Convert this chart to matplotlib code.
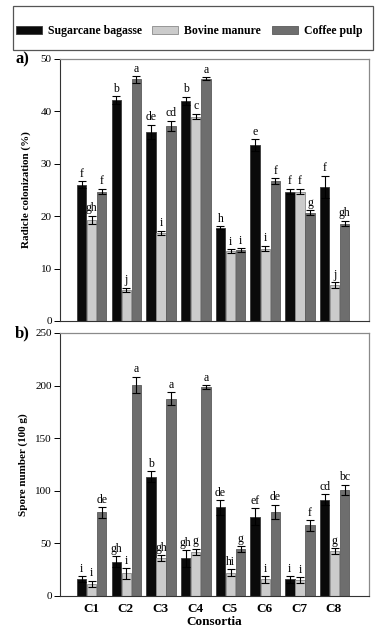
import matplotlib
matplotlib.use("Agg")
import matplotlib.pyplot as plt
from matplotlib.patches import Patch, Rectangle
import numpy as np

plt.rcParams['font.family'] = ['Liberation Serif', 'DejaVu Serif']

consortia = ["C1", "C2", "C3", "C4", "C5", "C6", "C7", "C8"]
series = ["Sugarcane bagasse", "Bovine manure", "Coffee pulp"]

# Panel a: radicle colonization (%)
col_sb = [26.0, 42.2, 36.1, 42.0, 17.8, 33.6, 24.7, 25.6]
col_bm = [19.3, 5.9, 16.8, 39.0, 13.3, 13.8, 24.7, 6.8]
col_cp = [24.7, 46.1, 37.2, 46.2, 13.5, 26.7, 20.7, 18.6]
col_sb_err = [0.7, 0.7, 1.3, 0.8, 0.3, 1.1, 0.5, 2.1]
col_bm_err = [0.8, 0.4, 0.4, 0.5, 0.4, 0.5, 0.5, 0.6]
col_cp_err = [0.5, 0.6, 1.0, 0.3, 0.4, 0.5, 0.4, 0.5]
col_sb_lab = ["f", "b", "de", "b", "h", "e", "f", "f"]
col_bm_lab = ["gh", "j", "i", "c", "i", "i", "f", "j"]
col_cp_lab = ["f", "a", "cd", "a", "i", "f", "g", "gh"]

# Panel b: spore number (100 g)
sp_sb = [16, 32.6, 113.4, 35.8, 84.3, 75.4, 15.8, 91.6]
sp_bm = [11.7, 21.5, 35.8, 42.0, 22.2, 15.8, 15.0, 42.8]
sp_cp = [79.5, 200.6, 187.6, 198.5, 44.4, 79.8, 67.2, 100.8]
sp_sb_err = [3, 5, 5, 8, 7, 8, 3, 5]
sp_bm_err = [3, 5, 3, 3, 3, 3, 3, 3]
sp_cp_err = [5, 8, 6, 2, 3, 7, 5, 5]
sp_sb_lab = ["i", "gh", "b", "gh", "de", "ef", "i", "cd"]
sp_bm_lab = ["i", "i", "gh", "g", "hi", "i", "i", "g"]
sp_cp_lab = ["de", "a", "a", "a", "g", "de", "f", "bc"]

colors = ["#0a0a0a", "#cbcbcb", "#6e6e6e"]
edges = ["#3a3a3a", "#8a8a8a", "#5a5a5a"]

fig = plt.figure(figsize=(3.81, 6.37), dpi=100)
ax_a = fig.add_axes([0.1575, 0.4961, 0.811, 0.4113])
ax_b = fig.add_axes([0.1575, 0.0644, 0.811, 0.4129])

x = np.arange(len(consortia))
w = 0.29
offsets = [-w + 0.02, 0.02, w + 0.02]


def draw(ax, vals, errs, labs, ymax, step, pad):
    for k in range(3):
        xs = x + offsets[k]
        ax.bar(xs, vals[k], width=w * 0.93, color=colors[k], edgecolor=edges[k],
               linewidth=0.6, zorder=2)
        ax.errorbar(xs, vals[k], yerr=errs[k], fmt='none', ecolor='black',
                    elinewidth=0.8, capsize=3, capthick=0.8, zorder=3)
        for xi, v, e, l in zip(xs, vals[k], errs[k], labs[k]):
            ax.text(xi, v + e + pad, l, ha='center', va='bottom', fontsize=8.5)
    ax.set_xlim(-0.893, 8.01)
    ax.set_ylim(0, ymax)
    ax.set_yticks(np.arange(0, ymax + 1, step))
    ax.tick_params(axis='y', direction='out', length=4, width=0.7, labelsize=8, pad=2)
    ax.tick_params(axis='x', length=0)
    for s in ['top', 'right']:
        ax.spines[s].set_color('#8a8a8a')
        ax.spines[s].set_linewidth(0.9)
    for s in ['left', 'bottom']:
        ax.spines[s].set_color('#333333')
        ax.spines[s].set_linewidth(0.8)


draw(ax_a, [col_sb, col_bm, col_cp], [col_sb_err, col_bm_err, col_cp_err],
     [col_sb_lab, col_bm_lab, col_cp_lab], 50, 10, 0.3)
draw(ax_b, [sp_sb, sp_bm, sp_cp], [sp_sb_err, sp_bm_err, sp_cp_err],
     [sp_sb_lab, sp_bm_lab, sp_cp_lab], 250, 50, 1.2)

ax_a.set_xticks([])
ax_b.set_xticks(x)
ax_b.set_xticklabels(consortia, fontsize=9.5, fontweight='bold')
ax_b.tick_params(axis='x', pad=5)
ax_b.set_xlabel("Consortia", fontsize=9.5, fontweight='bold', labelpad=1)

ax_a.set_ylabel("Radicle colonization (%)", fontsize=8, fontweight='bold', labelpad=7)
ax_b.set_ylabel("Spore number (100 g)", fontsize=8, fontweight='bold', labelpad=5)

fig.text(0.04, 0.901, "a)", fontsize=12, fontweight='bold')
fig.text(0.04, 0.471, "b)", fontsize=12, fontweight='bold')

# legend frame
W, H = 381, 637
fig.patches.append(Rectangle((13 / W, 1 - 50 / H), 360 / W, 44 / H,
                             transform=fig.transFigure, fill=False,
                             edgecolor='#555555', linewidth=0.9))

handles = [Patch(facecolor=colors[k], edgecolor=edges[k], linewidth=0.6) for k in range(3)]
leg = fig.legend(handles, series, loc='center',
                 bbox_to_anchor=(189 / W, 1 - 31 / H),
                 ncol=3, frameon=False,
                 prop={'family': ['Liberation Serif', 'DejaVu Serif'],
                       'weight': 'bold', 'size': 8.5},
                 handlelength=2.2, handleheight=0.6,
                 columnspacing=0.9, handletextpad=0.5, borderpad=0, borderaxespad=0)

fig.savefig("out.png", dpi=100)
